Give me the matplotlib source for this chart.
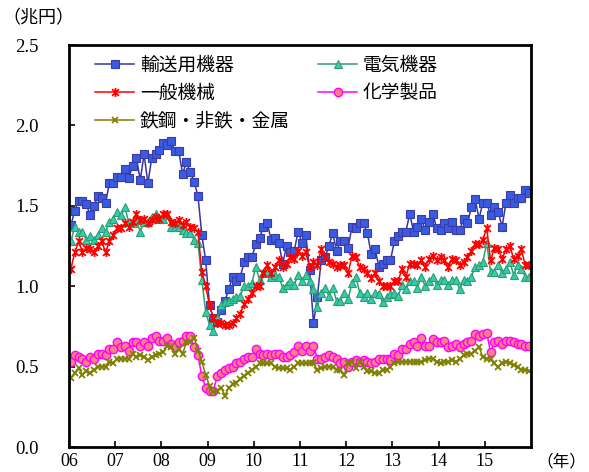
import matplotlib
matplotlib.use("Agg")
import matplotlib.pyplot as plt
from matplotlib.path import Path
import numpy as np

plt.rcParams['font.family'] = ['Noto Sans CJK JP', 'DejaVu Sans']

# monthly data, Jan 2006 - Dec 2015 (trillion yen)
years = ['06', '07', '08', '09', '10', '11', '12', '13', '14', '15']

transport = [1.38, 1.47, 1.53, 1.53, 1.51, 1.44, 1.50, 1.56, 1.55, 1.52, 1.64, 1.64,
             1.68, 1.68, 1.73, 1.67, 1.75, 1.80, 1.66, 1.82, 1.64, 1.80, 1.82, 1.85,
             1.89, 1.88, 1.90, 1.84, 1.84, 1.70, 1.77, 1.71, 1.65, 1.56, 1.32,
             1.16, 0.88, 0.80, 0.78, 0.85,
             0.91, 0.98, 1.06, 1.03, 1.06, 1.15, 1.18, 1.18, 1.26, 1.30, 1.37, 1.39,
             1.29, 1.30, 1.27, 1.14, 1.25, 1.21, 1.22, 1.34, 1.27, 1.32, 1.10, 0.77,
             0.93, 1.16, 1.18, 1.25, 1.33, 1.22, 1.28, 1.28, 1.24, 1.37, 1.36, 1.39,
             1.39, 1.33, 1.20, 1.23, 1.12, 1.14, 1.16, 1.16,
             1.28, 1.31, 1.34, 1.34, 1.45, 1.34, 1.37, 1.42, 1.35, 1.40, 1.45, 1.36,
             1.35, 1.39, 1.36, 1.40, 1.35, 1.35, 1.42, 1.39, 1.49, 1.54, 1.42, 1.52,
             1.52, 1.44, 1.49, 1.46, 1.37, 1.52, 1.57, 1.52, 1.55, 1.55, 1.60, 1.58]

electric = [1.28, 1.37, 1.34, 1.34, 1.29, 1.31, 1.29, 1.32, 1.36, 1.34, 1.40, 1.42,
            1.46, 1.44, 1.49, 1.40, 1.39, 1.41, 1.34, 1.40, 1.40, 1.43, 1.45, 1.42,
            1.42, 1.44, 1.37, 1.37, 1.37, 1.35, 1.33, 1.33, 1.29,
            1.27, 1.04, 0.84, 0.76, 0.72, 0.80, 0.88, 0.90, 0.91, 0.92, 0.93, 0.94,
            1.00, 1.00, 1.02, 1.12, 1.04, 1.08, 1.08, 1.06, 1.07, 1.06, 0.99, 1.01,
            1.03, 1.01, 1.07, 1.03, 1.07, 1.03, 0.98, 0.87, 0.96, 0.99, 0.94, 0.99,
            0.91, 0.91, 0.96, 0.92, 1.02, 1.06, 0.96, 0.93, 0.96, 0.92, 0.96, 0.95,
            0.90, 0.93,
            0.95, 0.96, 0.94, 1.01, 0.98, 1.03, 1.03, 0.99, 1.06, 1.00, 1.03, 1.06,
            1.01, 1.04, 1.04, 1.01, 1.04, 1.04, 0.98, 1.04, 1.03, 1.06, 1.12, 1.13,
            1.15, 1.27, 1.09, 1.09, 1.13, 1.08, 1.11, 1.15, 1.07, 1.13, 1.11, 1.06, 1.06]

machinery = [1.11, 1.21, 1.28, 1.21, 1.24, 1.23, 1.21, 1.25, 1.28, 1.21, 1.28, 1.32,
             1.36, 1.36, 1.39, 1.37, 1.40, 1.45, 1.41, 1.42, 1.39, 1.41, 1.43, 1.42,
             1.45, 1.45, 1.40, 1.39, 1.41, 1.38, 1.40, 1.37, 1.36, 1.34,
             1.09, 1.00, 0.88, 0.80, 0.77, 0.77, 0.76, 0.76, 0.77, 0.80, 0.83, 0.89,
             0.92, 0.96, 1.00, 1.00,
             1.08, 1.13, 1.08, 1.12, 1.16, 1.12, 1.14, 1.18, 1.17, 1.22, 1.19, 1.21,
             1.12, 1.15, 1.13, 1.23, 1.18, 1.15, 1.14, 1.12, 1.13, 1.13, 1.08, 1.19,
             1.18, 1.12, 1.11, 1.08, 1.05, 1.08, 1.03, 1.00, 1.00,
             1.00, 1.03, 1.03, 1.11, 1.06, 1.14, 1.14, 1.13, 1.16, 1.12, 1.17, 1.19,
             1.16, 1.18, 1.16, 1.12, 1.17, 1.16, 1.13, 1.15, 1.18, 1.22, 1.26, 1.26,
             1.29, 1.36, 1.16, 1.24, 1.23, 1.17, 1.23, 1.25, 1.17, 1.19, 1.23, 1.13, 1.13]

chemical = [0.53, 0.57, 0.56, 0.55, 0.53, 0.56, 0.55, 0.58, 0.58, 0.57, 0.61, 0.61,
            0.65, 0.62, 0.63, 0.60, 0.65, 0.65, 0.63, 0.65, 0.63, 0.68, 0.69, 0.66,
            0.66, 0.68, 0.64, 0.62, 0.65, 0.66,
            0.69, 0.69, 0.62, 0.57, 0.44, 0.37, 0.35, 0.35, 0.44, 0.46, 0.48, 0.49,
            0.50, 0.52, 0.53, 0.55, 0.56, 0.56,
            0.61, 0.58, 0.57, 0.58, 0.57, 0.58, 0.58, 0.56, 0.56, 0.57, 0.59, 0.63,
            0.60, 0.63, 0.60, 0.63, 0.55, 0.55, 0.56, 0.57,
            0.56, 0.55, 0.52, 0.53, 0.50, 0.53, 0.54, 0.53, 0.54, 0.53, 0.52, 0.53,
            0.55, 0.55, 0.55, 0.54, 0.58, 0.57, 0.61, 0.61, 0.64, 0.65, 0.63, 0.68,
            0.63, 0.63, 0.67, 0.65, 0.65, 0.66, 0.62, 0.63, 0.64, 0.62, 0.64, 0.65,
            0.66, 0.70, 0.69, 0.70, 0.71, 0.59, 0.65, 0.66, 0.64, 0.66, 0.66, 0.65,
            0.64, 0.64, 0.63, 0.63]

metals = [0.43, 0.46, 0.49, 0.45, 0.47, 0.46, 0.48, 0.50, 0.50, 0.50, 0.53, 0.52,
          0.55, 0.55, 0.55, 0.55, 0.58, 0.56, 0.57, 0.56, 0.54, 0.56, 0.57, 0.58,
          0.59, 0.63, 0.62, 0.58, 0.61, 0.58, 0.65, 0.65,
          0.68, 0.60, 0.53, 0.45, 0.38, 0.34, 0.35, 0.37, 0.32, 0.37, 0.39, 0.40,
          0.42, 0.44, 0.46, 0.48,
          0.50, 0.52, 0.52, 0.52, 0.52, 0.50, 0.49, 0.49, 0.49, 0.48, 0.50, 0.52,
          0.52, 0.52, 0.52, 0.52, 0.48, 0.49, 0.50, 0.50,
          0.50, 0.48, 0.48, 0.45, 0.52, 0.53, 0.49, 0.53, 0.50, 0.47, 0.47, 0.46,
          0.46, 0.48, 0.48, 0.50, 0.52, 0.53, 0.53, 0.53, 0.53, 0.53, 0.53, 0.53,
          0.54, 0.55, 0.55, 0.53, 0.52, 0.53, 0.53, 0.54, 0.53, 0.55, 0.57, 0.58,
          0.58, 0.60, 0.62, 0.56, 0.55, 0.55, 0.52, 0.50, 0.52, 0.53, 0.52, 0.51,
          0.50, 0.48, 0.48, 0.47]

x = np.arange(len(transport)) + 0.5

# excel-like star marker (x with a vertical bar)
star = Path([(0, -1), (0, 1), (-0.75, -0.75), (0.75, 0.75), (-0.75, 0.75), (0.75, -0.75)],
            [Path.MOVETO, Path.LINETO] * 3)

fig = plt.figure(figsize=(5.89, 4.72), dpi=100)
ax = fig.add_axes([69 / 589, 1 - 447 / 472, 462 / 589, 402 / 472])

lw = 1.1
h1, = ax.plot(x, transport, color='#35359E', lw=lw, marker='s', ms=5.5,
              mfc='#3A5BE0', mec='#3B3BA8', mew=0.8, label='輸送用機器')
h2, = ax.plot(x, electric, color='#2E9E6E', lw=lw, marker='^', ms=6,
              mfc='#33CCB0', mec='#2E9E6E', mew=0.8, label='電気機器')
h3, = ax.plot(x, machinery, color='#FF0000', lw=lw, marker=star, ms=6.5,
              mec='#FF0000', mew=1.3, label='一般機械')
h4, = ax.plot(x, chemical, color='#FF00FF', lw=lw, marker='o', ms=6,
              mfc='#FF8080', mec='#FF00FF', mew=1.0, label='化学製品')
h5, = ax.plot(x, metals, color='#808000', lw=lw, marker='x', ms=5,
              mec='#808000', mew=1.3, label='鉄鋼・非鉄・金属')

ax.set_xlim(0, 120)
ax.set_ylim(0, 2.5)
ax.set_xticks(np.arange(0, 120, 12))
ax.set_xticklabels(years)
ax.set_yticks(np.arange(0, 2.51, 0.5))
ax.set_yticklabels(['%.1f' % v for v in np.arange(0, 2.51, 0.5)])

for s in ax.spines.values():
    s.set_linewidth(2.0)
    s.set_color('black')
ax.tick_params(axis='x', direction='in', length=4, width=1.2, pad=4, labelsize=13)
ax.tick_params(axis='y', direction='in', length=4, width=1.2, pad=22, labelsize=13.5)
for lab in ax.get_xticklabels() + ax.get_yticklabels():
    lab.set_fontfamily('Liberation Serif')

leg = ax.legend(handles=[h1, h3, h5, h2, h4], ncol=2, loc='upper left',
                bbox_to_anchor=(0.056, 0.975), frameon=False, fontsize=13.5,
                handlelength=2.1, handletextpad=0.3, columnspacing=1.5,
                labelspacing=0.35, borderpad=0, borderaxespad=0)

fig.text(0.066, 0.962, '（兆円）', ha='center', va='center', fontsize=13)
fig.text(0.995, 0.021, '（年）', ha='right', va='center', fontsize=12)

fig.savefig('out.png', dpi=100)
